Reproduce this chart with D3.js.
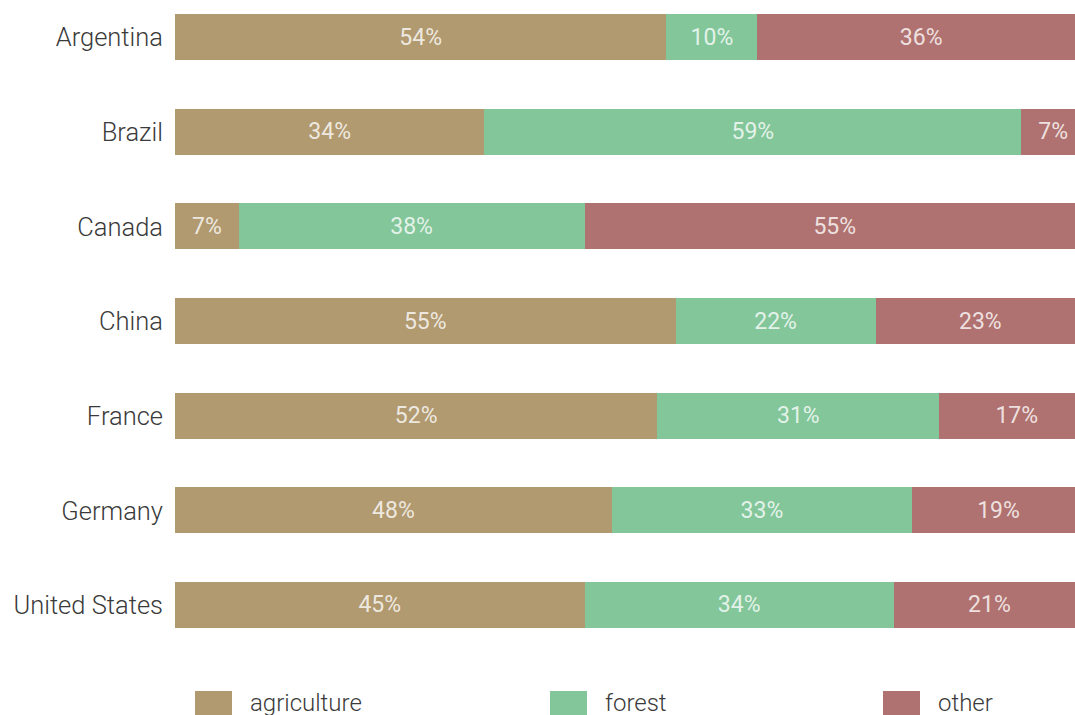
<!DOCTYPE html>
<html>
<head>
<meta charset="utf-8">
<script src="https://cdn.jsdelivr.net/npm/d3@7"></script>
<style>
  html, body { margin: 0; padding: 0; background: #fff; overflow: hidden; }
  svg { display: block; font-family: Roboto, "Noto Sans", sans-serif; }
</style>
</head>
<body>
<svg id="chart" width="1075" height="715"></svg>
<script>
const countries = ["Argentina", "Brazil", "Canada", "China", "France", "Germany", "United States"];
const seriesNames = ["agriculture", "forest", "other"];
const agriculture = [54, 34, 7, 55, 53, 48, 45];
const forest      = [10, 59, 38, 22, 31, 33, 34];
const other       = [36, 7, 55, 23, 17, 19, 21];
const agricultureLabels = ["54%", "34%", "7%", "55%", "52%", "48%", "45%"];
const forestLabels      = ["10%", "59%", "38%", "22%", "31%", "33%", "34%"];
const otherLabels       = ["36%", "7%", "55%", "23%", "17%", "19%", "21%"];
const colors = ["#b19970", "#82c69a", "#b07270"];

const svg = d3.select("#chart");
const margin = { left: 175, top: 14 };

const rows = countries.map((c, i) => ({
  country: c,
  agriculture: agriculture[i],
  forest: forest[i],
  other: other[i],
  labels: { agriculture: agricultureLabels[i], forest: forestLabels[i], other: otherLabels[i] }
}));

const series = d3.stack().keys(seriesNames)(rows);

const x = d3.scaleLinear().domain([0, 100]).range([margin.left, margin.left + 910]);
const y = d3.scaleBand().domain(countries).range([14, 628]).paddingInner(0.514).paddingOuter(0);
const color = d3.scaleOrdinal().domain(seriesNames).range(colors);

const layers = svg.append("g").attr("shape-rendering", "crispEdges").selectAll("g")
  .data(series).join("g")
  .attr("fill", d => color(d.key));

layers.selectAll("rect")
  .data(d => d)
  .join("rect")
  .attr("x", d => x(d[0]))
  .attr("y", d => y(d.data.country))
  .attr("width", d => x(d[1]) - x(d[0]))
  .attr("height", y.bandwidth());

const labelG = svg.append("g");
series.forEach(s => {
  labelG.selectAll(null)
    .data(s).join("text")
    .attr("x", d => (x(d[0]) + x(d[1])) / 2)
    .attr("y", d => y(d.data.country) + y.bandwidth() / 2)
    .attr("text-anchor", "middle")
    .attr("dominant-baseline", "central")
    .attr("fill", "rgba(255,255,255,0.8)")
    .attr("font-size", 23)
    .text(d => d.data.labels[s.key]);
});

// y axis labels
const yAxis = d3.axisLeft(y).tickSize(0).tickPadding(12);
const ag = svg.append("g").attr("transform", `translate(${margin.left},0)`).call(yAxis);
ag.select(".domain").remove();
ag.selectAll("text")
  .attr("font-size", 25.5)
  .attr("font-family", "Roboto, sans-serif")
  .attr("font-weight", 300)
  .attr("fill", "#3a3a3a")
  .attr("dy", "0.36em");

// legend
const legendX = [195, 550, 883];
const legend = svg.append("g").selectAll("g")
  .data(seriesNames).join("g")
  .attr("transform", (d, i) => `translate(${legendX[i]},691)`);
legend.append("rect")
  .attr("width", 37).attr("height", 25)
  .attr("fill", d => color(d));
legend.append("text")
  .attr("x", 55).attr("y", 12)
  .attr("dominant-baseline", "central")
  .attr("font-size", 24)
  .attr("font-weight", 300)
  .attr("fill", "#3a3a3a")
  .text(d => d);
</script>
</body>
</html>
